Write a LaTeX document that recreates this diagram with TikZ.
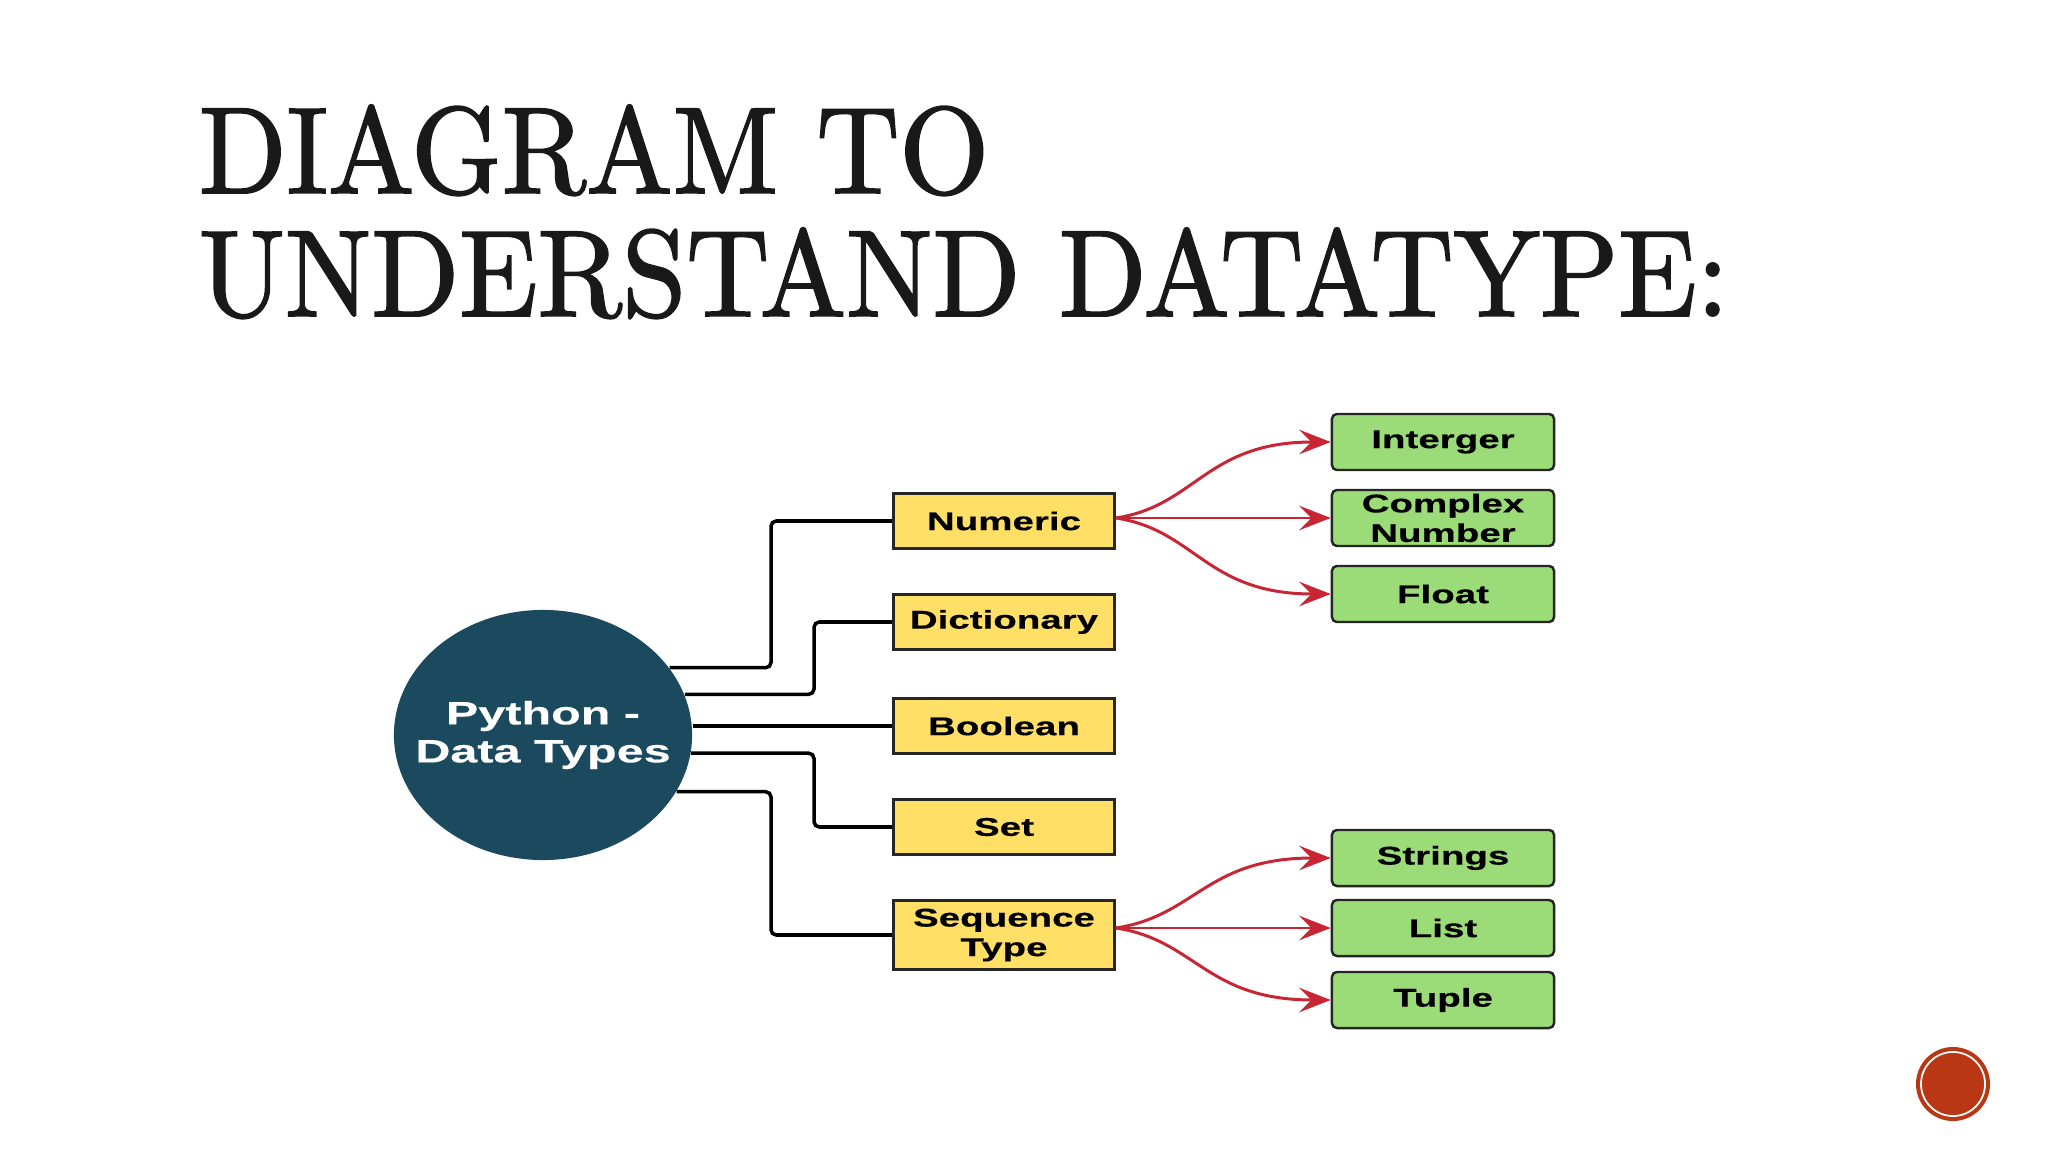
\documentclass[tikz,border=0pt]{standalone}
\usepackage{fontspec}
\usetikzlibrary{arrows.meta,shapes.geometric}
\newfontfamily\boxfont[FakeStretch=1.5,FakeBold=0.4]{Liberation Sans}
\newfontfamily\headfont[FakeBold=1.5,FakeStretch=0.935]{lmroman10-regular.otf}
\definecolor{tealdark}{RGB}{27,74,95}
\definecolor{boxyellow}{RGB}{255,223,102}
\definecolor{leafgreen}{RGB}{155,220,120}
\definecolor{arrowred}{RGB}{200,38,52}
\definecolor{badgered}{RGB}{185,55,20}

\begin{document}
\begin{tikzpicture}[x=0.01cm, y=-0.01cm,
	grp/.style={draw=black!85, fill=boxyellow, line width=0.7pt, minimum width=2.21cm, minimum height=0.55cm, inner sep=0pt, align=center, font=\boxfont\bfseries\fontsize{7.3}{8.4}\selectfont},
	leaf/.style={grp, fill=leafgreen, rounded corners=1.4pt, minimum width=2.22cm, minimum height=0.56cm},
	link/.style={line width=1pt, rounded corners=1.5pt},
	arr/.style={draw=arrowred, line width=0.85pt, -{Stealth[length=9pt,width=7pt,inset=3.5pt]}},
	heading/.style={anchor=base west, inner sep=0pt, text=black!90, font=\headfont\fontsize{35}{35}\selectfont}]
	\useasboundingbox (0,0) rectangle (2048,1152);
	% heading
	\node[heading] (head1) at (198,193) {DIAGRAM TO};
	\node[heading] (head2) at (198,316) {UNDERSTAND DATATYPE:};

	% root
	\node[ellipse, fill=tealdark, minimum width=2.98cm, minimum height=2.5cm, inner sep=0pt,
		label={[text=white, align=center, font=\boxfont\bfseries\fontsize{9.2}{10.8}\selectfont]center:{Python -\\Data Types}}] (py) at (543,735) {};

	% groups
	\node[grp] (num) at (1004,521) {Numeric};
	\node[grp] (dict) at (1004,622) {Dictionary};
	\node[grp] (bool) at (1004,726) {Boolean};
	\node[grp] (set) at (1004,827) {Set};
	\node[grp, minimum height=0.69cm] (seq) at (1004,935) {Sequence\\Type};

	% leaves
	\node[leaf] (int) at (1443,442) {Interger};
	\node[leaf] (cplx) at (1443,518) {Complex\\Number};
	\node[leaf] (flt) at (1443,594) {Float};
	\node[leaf] (str) at (1443,858) {Strings};
	\node[leaf] (lst) at (1443,928) {List};
	\node[leaf] (tup) at (1443,1000) {Tuple};

	% elbow links
	\coordinate (ja) at (771,0);
	\coordinate (jb) at (814,0);
	\foreach \a/\j/\t in {28/ja/num, 16/jb/dict, 353.4/jb/set, 337.7/ja/seq} {
		\draw[link] (py.\a) -- (py.\a -| \j) -- (\t.west -| \j) -- (\t.west);
	}
	\draw[link] (py.east |- bool.west) -- (bool.west);

	% red arrows
	\coordinate (numout) at (num.east |- cplx.west);
	\coordinate (seqout) at (seq.east |- lst.west);
	\draw[arr] (numout) .. controls +(80,-12) and +(-125,0) .. (int.west);
	\draw[arr] (numout) -- (cplx.west);
	\draw[arr] (numout) .. controls +(80,12) and +(-125,0) .. (flt.west);
	\draw[arr] (seqout) .. controls +(80,-12) and +(-125,0) .. (str.west);
	\draw[arr] (seqout) -- (lst.west);
	\draw[arr] (seqout) .. controls +(80,12) and +(-125,0) .. (tup.west);

	% badge
	\fill[badgered] (1953,1084) circle[radius=0.37cm];
	\draw[white, line width=0.5pt] (1953,1084) circle[radius=0.32cm];
\end{tikzpicture}
\end{document}
